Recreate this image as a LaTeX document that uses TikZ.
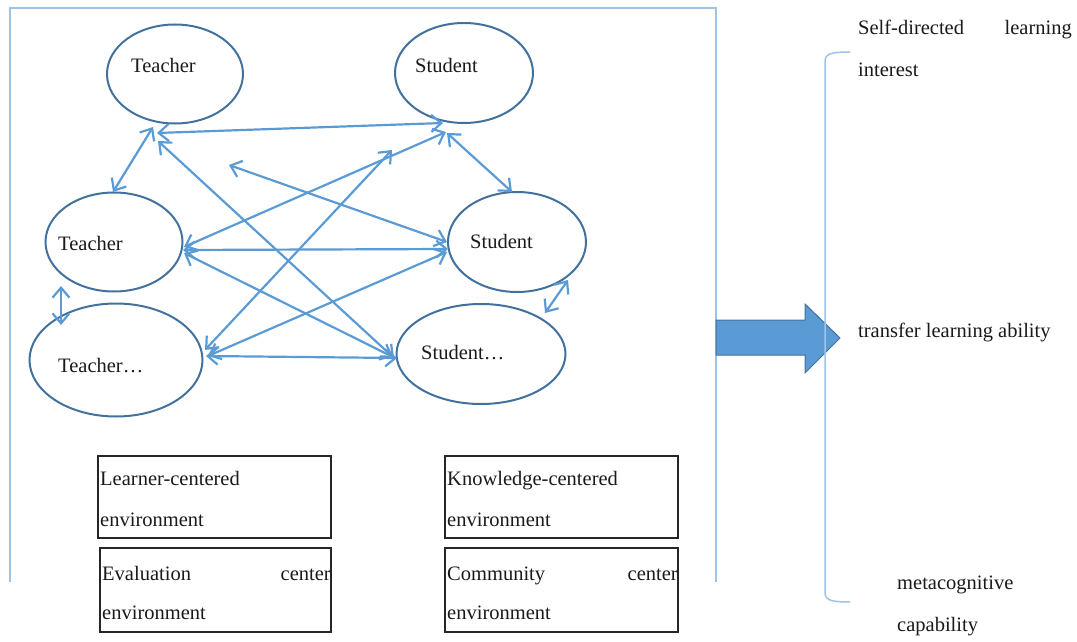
\documentclass[tikz,border=0pt]{standalone}
\usepackage{fontspec}
\setmainfont{Liberation Serif}
\usetikzlibrary{arrows.meta,calc,shapes.geometric}
\definecolor{ellc}{HTML}{41719C}
\definecolor{arrc}{HTML}{5B9BD5}
\definecolor{framec}{HTML}{9DC3E6}
\definecolor{txtc}{HTML}{1A1A1A}
\tikzset{
  ell/.style={ellipse,draw=ellc,line width=2pt,inner sep=0pt},
  lab/.style={font=\fontsize{20.5}{24}\selectfont,text=txtc,inner sep=0pt,anchor=west,text height=14pt,text depth=4pt},
  conn/.style={draw=arrc,line width=2.2pt,{Straight Barb[length=10pt,width=17pt]}-{Straight Barb[length=10pt,width=17pt]}},
  envbox/.style={draw=black!85,line width=1.5pt,inner sep=0pt},
}
\begin{document}
\begin{tikzpicture}[x=1pt,y=-1pt]
\useasboundingbox (0,0) rectangle (1077,642);
% frame (open at bottom)
\draw[framec,line width=1.5pt] (10,582) -- (10,8) -- (716,8) -- (716,582);
% ellipses
\node[ell,minimum width=136pt,minimum height=99pt] (t1) at (175,74) {};
\node[ell,minimum width=138pt,minimum height=100pt] (s1) at (464,73) {};
\node[ell,minimum width=137pt,minimum height=99pt] (t2) at (114,242) {};
\node[ell,minimum width=138pt,minimum height=100pt] (s2) at (517,242) {};
\node[ell,minimum width=173pt,minimum height=113pt] (t3) at (116,360) {};
\node[ell,minimum width=169pt,minimum height=100pt] (s3) at (481,354) {};
% labels
\node[lab] (t1l) at (131,68) {Teacher};
\node[lab] (s1l) at (415,68) {Student};
\node[lab] (t2l) at (58,245) {Teacher};
\node[lab] (s2l) at (470,243) {Student};
\node[lab] (t3l) at (58,367) {Teacher…};
\node[lab] (s3l) at (421,354) {Student…};
% free ends
\coordinate (f1) at (229,165);
\coordinate (f2) at (392,150);
% connectors
\draw[conn] ($(t1)+(-18,59)$) -- ($(s1)+(-21,50)$);
\draw[conn] ($(t1)+(-22,53)$) -- ($(t2)+(-1,-50)$);
\draw[conn] ($(t1)+(-17,67)$) -- ($(s3)+(-87,4)$);
\draw[conn] (f1) -- ($(s2)+(-70,0)$);
\draw[conn] ($(s1)+(-18,59)$) -- ($(t2)+(70,5)$);
\draw[conn] (f2) -- ($(t3)+(89,-10)$);
\draw[conn] ($(t2)+(69,8)$) -- ($(s2)+(-69,7)$);
\draw[conn] ($(t2)+(70,11)$) -- ($(s3)+(-88,3)$);
\draw[conn] ($(t3)+(92,-4)$) -- ($(s2)+(-70,10)$);
\draw[conn] ($(t3)+(90,-4)$) -- ($(s3)+(-84,4)$);
\draw[conn] ($(s1)+(-17,60)$) -- ($(s2)+(-5,-50)$);
\draw[conn] ($(t2)+(-53,44)$) -- ($(t3)+(-55,-35)$);
\draw[conn] ($(s2)+(51,38)$) -- ($(s3)+(64,-41)$);
% boxes
\node[envbox,minimum width=233pt,minimum height=82pt] (b1) at (214.5,497) {};
\node[envbox,minimum width=233pt,minimum height=82pt] (b2) at (561.5,497) {};
\node[envbox,minimum width=231pt,minimum height=84pt] (b3) at (215.5,590) {};
\node[envbox,minimum width=233pt,minimum height=84pt] (b4) at (561.5,590) {};
\node[lab] (b1a) at (100,480) {Learner-centered};
\node[lab] (b1b) at (100,521) {environment};
\node[lab] (b2a) at (447,480) {Knowledge-centered};
\node[lab] (b2b) at (447,521) {environment};
\node[lab] (b3a) at (102,575) {Evaluation};
\node[lab,anchor=east] (b3c) at (331,575) {center};
\node[lab] (b3b) at (102,614) {environment};
\node[lab] (b4a) at (447,575) {Community};
\node[lab,anchor=east] (b4c) at (678,575) {center};
\node[lab] (b4b) at (447,614) {environment};
% block arrow
\draw[fill=arrc,draw=ellc,line width=1pt] (716,320) -- (805,320) -- (805,304) -- (840,338) -- (805,373) -- (805,355) -- (716,355) -- cycle;
% bracket
\draw[framec,line width=1.5pt] (850,52) .. controls (830,52) and (825,54) .. (825,62) -- (825,592) .. controls (825,600) and (830,602) .. (850,602);
% right texts
\node[lab] (r1a) at (858,30) {Self-directed};
\node[lab,anchor=east] (r1c) at (1072,30) {learning};
\node[lab] (r1b) at (858,72) {interest};
\node[lab] (r2) at (858,332) {transfer learning ability};
\node[lab] (r3a) at (897,584) {metacognitive};
\node[lab] (r3b) at (897,626) {capability};
\end{tikzpicture}
\end{document}
